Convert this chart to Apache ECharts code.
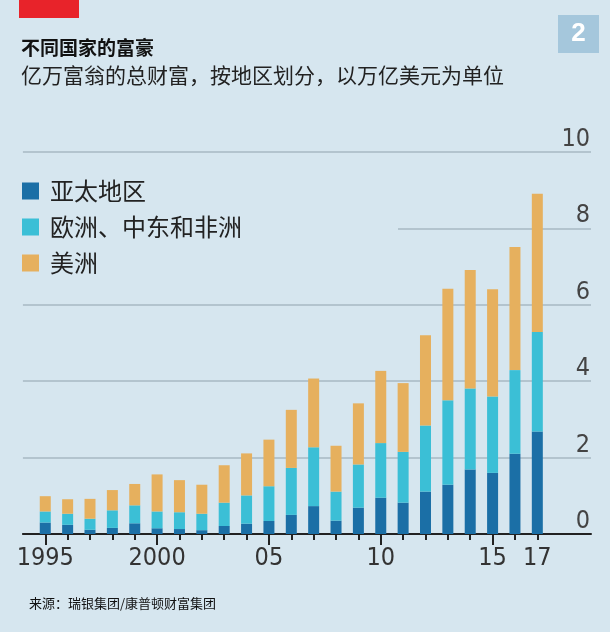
<!DOCTYPE html>
<html>
<head>
<meta charset="utf-8">
<script src="https://cdn.jsdelivr.net/npm/echarts@6/dist/echarts.min.js"></script>
<style>
html,body{margin:0;padding:0;background:#d6e6ef;}
#c{width:610px;height:632px;}
</style>
</head>
<body>
<div id="c"></div>
<script>
const years = [1995,1996,1997,1998,1999,2000,2001,2002,2003,2004,2005,2006,2007,2008,2009,2010,2011,2012,2013,2014,2015,2016,2017];
const asiaPacific = [0.30,0.24,0.11,0.16,0.28,0.15,0.13,0.10,0.21,0.27,0.34,0.50,0.73,0.35,0.69,0.95,0.82,1.11,1.29,1.69,1.60,2.10,2.68];
const europeMEA = [0.29,0.29,0.29,0.46,0.47,0.44,0.44,0.43,0.61,0.74,0.91,1.23,1.54,0.76,1.13,1.43,1.33,1.73,2.21,2.12,2.00,2.19,2.61];
const americas = [0.40,0.38,0.52,0.53,0.56,0.97,0.84,0.76,0.98,1.10,1.22,1.52,1.80,1.20,1.60,1.89,1.80,2.36,2.92,3.10,2.81,3.22,3.62];
const seriesNames = ['亚太地区','欧洲、中东和非洲','美洲'];
const xLabelYears = [1995,2000,2005,2010,2015,2017];
const xLabelText = ['1995','2000','05','10','15','17'];
const majorTickYears = [1995,2000,2005,2010,2015];

const colors = ['#1b6fa6','#3bbfd6','#e6b05e'];
const numFont = '"Liberation Sans Narrow","DejaVu Sans Condensed",sans-serif';
const cjk = '"Noto Sans CJK SC",sans-serif';

const chart = echarts.init(document.getElementById('c'));

// axis frame grid (index 0): spans the full baseline; bar grid (index 1): category bands
const frameLeft = 22.9, frameRight = 19;
const xMin = 1994, xMax = 2019.4;
const plotW = 610 - frameLeft - frameRight;
const perYear = plotW / (xMax - xMin);
const barLeft = frameLeft + (years[0] - xMin) * perYear - perYear / 2;
const barRight = 610 - (barLeft + years.length * perYear);

chart.setOption({
  backgroundColor:'#d6e6ef',
  animation:false,
  title:[
    {text:'不同国家的富豪', left:16, top:33, textStyle:{fontFamily:cjk, fontSize:19, fontWeight:'bold', color:'#111'}},
    {text:'亿万富翁的总财富，按地区划分，以万亿美元为单位', left:16, top:60, textStyle:{fontFamily:cjk, fontSize:21, fontWeight:'normal', color:'#222'}},
    {text:'来源：瑞银集团/康普顿财富集团', left:24, top:592, textStyle:{fontFamily:cjk, fontSize:13, fontWeight:'normal', color:'#111'}}
  ],
  graphic:[
    {type:'rect', shape:{x:19,y:0,width:60,height:18}, style:{fill:'#e8232a'}},
    {type:'rect', shape:{x:558,y:15,width:41,height:38}, style:{fill:'#a5c7dc'}},
    {type:'text', style:{text:'2', x:578.5, y:34, align:'center', verticalAlign:'middle', font:'bold 26px "Liberation Sans Narrow", sans-serif', fill:'#ffffff'}}
  ],
  legend:{
    left:4, top:173, orient:'vertical', itemGap:12, itemWidth:17, itemHeight:17,
    icon:'rect', backgroundColor:'#d6e6ef', padding:[6,156,6,18],
    textStyle:{fontFamily:cjk, fontSize:24, color:'#222', padding:[0,0,0,6]},
    data:seriesNames
  },
  grid:[
    {left:frameLeft, right:frameRight, top:152, bottom:98},
    {left:barLeft, right:barRight, top:152, bottom:98}
  ],
  xAxis:[{
    gridIndex:0, type:'value', min:xMin, max:xMax,
    axisLine:{show:true, lineStyle:{color:'#222', width:2}},
    axisTick:{show:true, customValues:years, length:6, lineStyle:{color:'#222', width:2}},
    axisLabel:{show:true, customValues:xLabelYears, margin:12, fontFamily:numFont, fontSize:25, color:'#333',
      formatter:v=>{const i=xLabelYears.indexOf(v); return i>=0?xLabelText[i]:'';}},
    splitLine:{show:false}
  },{
    gridIndex:0, type:'value', min:xMin, max:xMax, position:'bottom', offset:0,
    axisLine:{show:false},
    axisTick:{show:true, customValues:majorTickYears, length:11, lineStyle:{color:'#222', width:2}},
    axisLabel:{show:false},
    splitLine:{show:false}
  },{
    gridIndex:1, type:'category', data:years, boundaryGap:true,
    axisLine:{show:false}, axisTick:{show:false}, axisLabel:{show:false}, splitLine:{show:false}
  }],
  yAxis:[{
    gridIndex:0, type:'value', position:'right', min:0, max:10, interval:2,
    axisLine:{show:false}, axisTick:{show:false},
    axisLabel:{inside:true, margin:1, verticalAlign:'bottom', padding:[0,0,0,0], fontFamily:numFont, fontSize:25, color:'#444'},
    splitLine:{show:true, lineStyle:{color:'#a7b8c3', width:1.5}}
  },{
    gridIndex:1, type:'value', min:0, max:10, interval:2,
    axisLine:{show:false}, axisTick:{show:false}, axisLabel:{show:false}, splitLine:{show:false}
  }],
  series:[
    {name:seriesNames[0], type:'bar', stack:'t', xAxisIndex:2, yAxisIndex:1, data:asiaPacific, barWidth:11, itemStyle:{color:colors[0]}},
    {name:seriesNames[1], type:'bar', stack:'t', xAxisIndex:2, yAxisIndex:1, data:europeMEA, barWidth:11, itemStyle:{color:colors[1]}},
    {name:seriesNames[2], type:'bar', stack:'t', xAxisIndex:2, yAxisIndex:1, data:americas, barWidth:11, itemStyle:{color:colors[2]}}
  ]
});
</script>
</body>
</html>
